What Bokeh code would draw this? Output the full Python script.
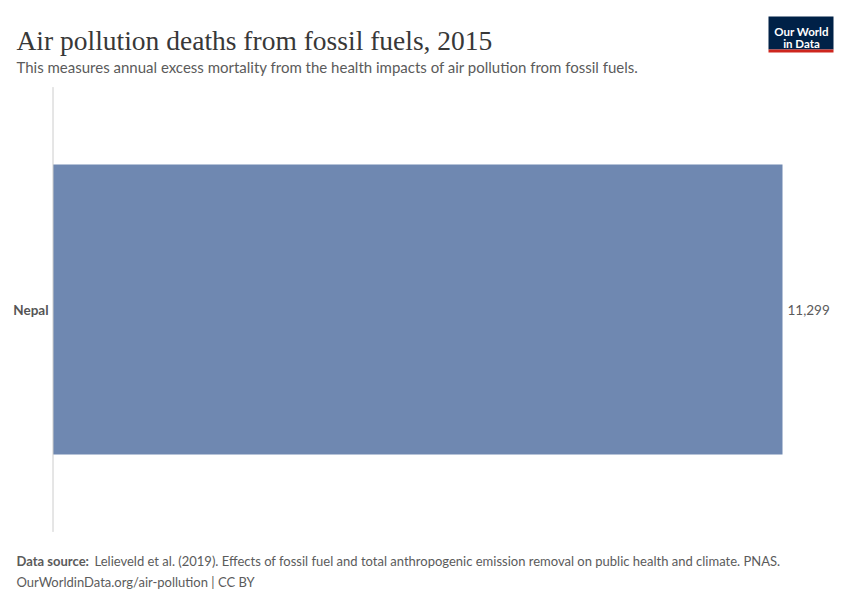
from bokeh.plotting import figure
from bokeh.models import ColumnDataSource, Label, BoxAnnotation, Range1d
from bokeh.core.properties import value
from bokeh.embed import file_html
from bokeh.resources import INLINE

# Data
countries = ["Nepal"]
deaths = [11299]
value_labels = [f"{v:,}" for v in deaths]

title_text = "Air pollution deaths from fossil fuels, 2015"
subtitle_text = "This measures annual excess mortality from the health impacts of air pollution from fossil fuels."
source_bold = "Data source:"
source_text = "Lelieveld et al. (2019). Effects of fossil fuel and total anthropogenic emission removal on public health and climate. PNAS."
footer_text = "OurWorldinData.org/air-pollution | CC BY"

W, H = 850, 600
# layout (pixels): bar zero line, bar end, band center, band size
X0_PX, X1_PX = 52.5, 782.0
YC_PX, BAND_PX = 309.0, 444.8
BAR_FRAC = 0.652

kx = max(deaths) / (X1_PX - X0_PX)
ky = 1.0 / BAND_PX
x_range = Range1d(-X0_PX * kx, (W - X0_PX) * kx)
y_range = Range1d(-(H - YC_PX) * ky, YC_PX * ky)

idx = list(range(len(countries)))
src = ColumnDataSource(dict(y=idx, country=countries, deaths=deaths, label=value_labels,
                            lo=[i - 0.5 for i in idx], hi=[i + 0.5 for i in idx], zero=[0] * len(idx)))

p = figure(width=W, height=H, output_backend="svg", toolbar_location=None,
           x_range=x_range, y_range=y_range, x_axis_type=None, y_axis_type=None,
           min_border=0)
p.outline_line_color = None
p.xgrid.visible = False
p.ygrid.visible = False

p.hbar(y="y", right="deaths", left=0, height=BAR_FRAC, source=src,
       fill_color="#6f88b1", line_color=None)

# axis line along the category band
p.segment(x0="zero", y0="lo", x1="zero", y1="hi", source=src, line_color="#cccccc", line_width=1)

# value labels
p.text(x="deaths", y="y", text="label", source=src, x_offset=5,
       text_align="left", text_baseline="middle", text_font=value("Lato"),
       text_font_size="13.5px", text_color="#5b5b5b")
# category labels
p.text(x="zero", y="y", text="country", source=src, x_offset=-4.5,
       text_align="right", text_baseline="middle", text_font=value("Lato"),
       text_font_size="13.5px", text_font_style="bold", text_color="#555555")

def lab(x, y, text, **kw):
    opts = dict(text_font="Lato", text_font_size="13px", text_color="#5b5b5b",
                text_baseline="alphabetic")
    opts.update(kw)
    p.add_layout(Label(x=x, y=H - y, x_units="screen", y_units="screen", text=text, **opts))

# Title / subtitle
lab(16, 40, title_text, text_font="Liberation Serif", text_font_size="27.5px", text_color="#383838")
lab(16, 66, subtitle_text, text_font_size="15px")
# Footer
lab(16, 560, source_bold, text_font_style="bold")
lab(94, 560, source_text)
lab(16, 581, footer_text)

# Logo
def box(l, r, t, b, color):
    p.add_layout(BoxAnnotation(left=l, right=r, top=H - t, bottom=H - b,
                               left_units="screen", right_units="screen",
                               top_units="screen", bottom_units="screen",
                               fill_color=color, fill_alpha=1, line_color=None))
box(768, 833, 16, 49, "#002147")
box(768, 833, 49, 52, "#ce261e")
lab(801, 31, "Our World", text_font_size="11.5px", text_font_style="bold",
    text_color="white", text_align="center")
lab(801, 42.5, "in Data", text_font_size="11.5px", text_font_style="bold",
    text_color="white", text_align="center")

open("out.html", "w").write(file_html(p, INLINE))
